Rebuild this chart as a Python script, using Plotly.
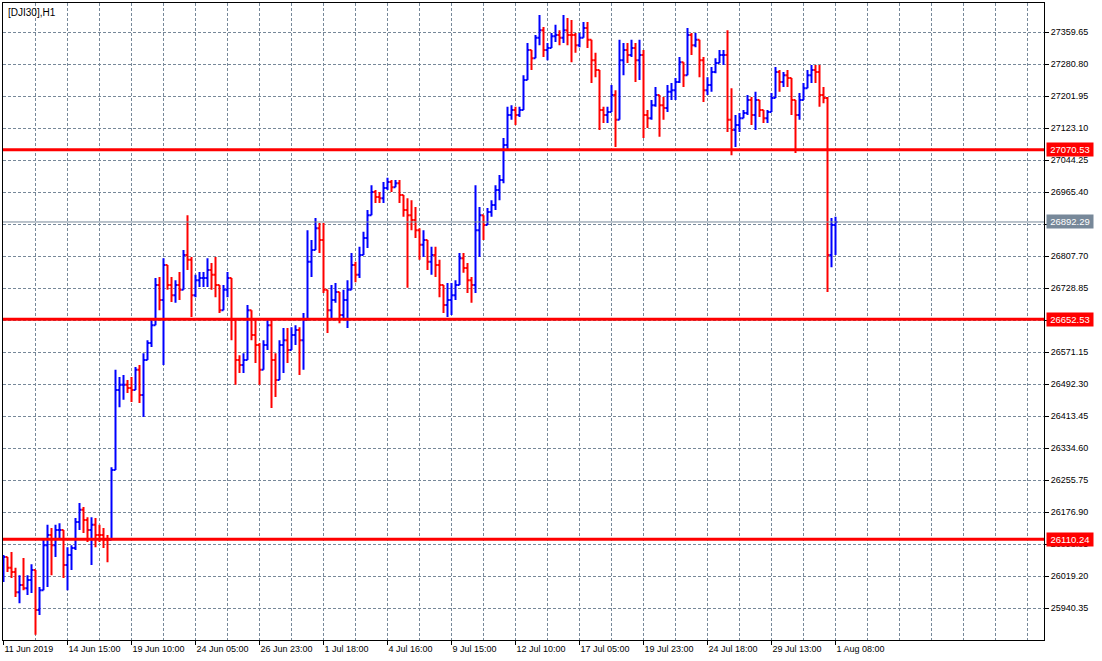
import plotly.graph_objects as go

# DJI30 H1 - one sample every 4 hourly bars (high / low / close)
bars_per_sample = 4
first_open = 26047

highs = [26072, 26067, 26079, 26040, 26022, 26064, 26022, 26049, 26035, 25993,
         26109, 26146, 26138, 26146, 26150, 26133, 26091, 26096, 26163, 26200,
         26190, 26165, 26165, 26163, 26146, 26138, 26121, 26288, 26528, 26510,
         26515, 26503, 26510, 26535, 26540, 26569, 26601, 26651, 26754, 26757,
         26803, 26786, 26757, 26749, 26769, 26823, 26909, 26806, 26762, 26769,
         26769, 26803, 26791, 26806, 26737, 26737, 26769, 26754, 26651, 26564,
         26569, 26688, 26675, 26651, 26594, 26601, 26651, 26651, 26569, 26601,
         26631, 26631, 26633, 26638, 26633, 26668, 26872, 26848, 26902, 26890,
         26890, 26725, 26737, 26742, 26720, 26725, 26749, 26816, 26794, 26831,
         26868, 26922, 26983, 26971, 26966, 26991, 27001, 26996, 26996, 26996,
         26959, 26951, 26946, 26929, 26877, 26872, 26848, 26831, 26831, 26799,
         26737, 26742, 26742, 26749, 26816, 26816, 26791, 26757, 26983, 26929,
         26909, 26927, 26946, 26983, 27008, 27099, 27176, 27180, 27176, 27176,
         27254, 27333, 27316, 27353, 27402, 27373, 27333, 27358, 27378, 27365,
         27402, 27395, 27390, 27358, 27358, 27385, 27385, 27341, 27309, 27267,
         27176, 27176, 27230, 27217, 27341, 27333, 27333, 27341, 27333, 27341,
         27316, 27168, 27193, 27225, 27205, 27200, 27230, 27235, 27247, 27299,
         27286, 27370, 27358, 27358, 27341, 27299, 27249, 27274, 27296, 27316,
         27316, 27365, 27222, 27156, 27161, 27168, 27205, 27200, 27213, 27193,
         27168, 27168, 27210, 27274, 27267, 27262, 27267, 27247, 27193, 27210,
         27235, 27267, 27279, 27279, 27279, 27225, 27200, 26902, 26905]

lows = [26005, 26030, 26015, 25968, 25953, 25985, 25973, 25978, 25875, 25924,
        25985, 25993, 26022, 26067, 26109, 26015, 25985, 26035, 26084, 26133,
        26126, 26104, 26047, 26091, 26104, 26089, 26054, 26109, 26281, 26436,
        26454, 26471, 26449, 26478, 26446, 26412, 26552, 26584, 26638, 26675,
        26540, 26725, 26695, 26693, 26700, 26725, 26774, 26658, 26707, 26732,
        26732, 26732, 26725, 26707, 26668, 26675, 26707, 26601, 26491, 26520,
        26520, 26552, 26601, 26545, 26491, 26528, 26577, 26434, 26461, 26503,
        26520, 26545, 26577, 26589, 26515, 26528, 26651, 26757, 26823, 26816,
        26717, 26619, 26651, 26693, 26643, 26651, 26631, 26725, 26744, 26754,
        26811, 26828, 26909, 26939, 26939, 26939, 26971, 26966, 26978, 26939,
        26905, 26730, 26872, 26853, 26799, 26806, 26774, 26762, 26757, 26707,
        26668, 26658, 26663, 26700, 26737, 26767, 26717, 26693, 26717, 26806,
        26848, 26885, 26905, 26922, 26946, 26988, 27070, 27144, 27131, 27151,
        27168, 27242, 27267, 27296, 27328, 27299, 27291, 27321, 27336, 27328,
        27333, 27328, 27286, 27309, 27323, 27346, 27321, 27235, 27249, 27119,
        27136, 27136, 27163, 27077, 27144, 27254, 27284, 27299, 27237, 27242,
        27099, 27124, 27144, 27176, 27102, 27144, 27163, 27193, 27193, 27235,
        27225, 27254, 27304, 27323, 27249, 27188, 27205, 27213, 27259, 27284,
        27279, 27114, 27057, 27077, 27114, 27148, 27156, 27131, 27119, 27151,
        27136, 27136, 27163, 27198, 27213, 27225, 27225, 27156, 27062, 27144,
        27193, 27222, 27235, 27235, 27176, 27185, 26720, 26781, 26811]

closes = [26067, 26040, 26030, 25980, 25998, 25990, 26010, 26035, 25936, 25985,
          26096, 26121, 26096, 26133, 26133, 26047, 26072, 26089, 26153, 26183,
          26158, 26133, 26146, 26121, 26121, 26109, 26109, 26281, 26478, 26491,
          26491, 26483, 26478, 26528, 26466, 26552, 26594, 26638, 26737, 26700,
          26786, 26737, 26712, 26737, 26725, 26811, 26799, 26712, 26749, 26754,
          26754, 26774, 26762, 26737, 26675, 26725, 26754, 26651, 26552, 26540,
          26552, 26675, 26614, 26589, 26528, 26589, 26638, 26552, 26503, 26589,
          26601, 26577, 26614, 26626, 26601, 26651, 26794, 26823, 26877, 26848,
          26725, 26675, 26700, 26720, 26663, 26700, 26725, 26786, 26762, 26811,
          26853, 26909, 26966, 26954, 26951, 26976, 26991, 26978, 26988, 26959,
          26922, 26909, 26897, 26872, 26836, 26848, 26794, 26811, 26786, 26737,
          26688, 26700, 26712, 26737, 26803, 26779, 26749, 26737, 26872, 26909,
          26885, 26917, 26934, 26971, 26996, 27082, 27156, 27168, 27156, 27168,
          27242, 27316, 27296, 27346, 27365, 27316, 27321, 27350, 27353, 27346,
          27365, 27353, 27353, 27328, 27346, 27370, 27341, 27291, 27267, 27168,
          27156, 27163, 27205, 27144, 27291, 27316, 27304, 27321, 27291, 27304,
          27156, 27148, 27180, 27205, 27180, 27173, 27213, 27217, 27237, 27286,
          27254, 27353, 27328, 27341, 27291, 27217, 27230, 27262, 27284, 27304,
          27304, 27144, 27119, 27131, 27148, 27161, 27193, 27156, 27193, 27168,
          27148, 27163, 27198, 27262, 27237, 27254, 27247, 27193, 27156, 27193,
          27222, 27254, 27267, 27262, 27205, 27198, 26811, 26885, 26892.29]

time_labels = ["11 Jun 2019", "14 Jun 15:00", "19 Jun 10:00", "24 Jun 05:00",
               "26 Jun 23:00", "1 Jul 18:00", "4 Jul 16:00", "9 Jul 15:00",
               "12 Jul 10:00", "17 Jul 05:00", "19 Jul 23:00", "24 Jul 18:00",
               "29 Jul 13:00", "1 Aug 08:00"]
bars_per_label = 64

price_ticks = [25940.35, 26019.20, 26098.05, 26176.90, 26255.75, 26334.60, 26413.45,
               26492.30, 26571.15, 26650.00, 26728.85, 26807.70, 26886.55, 26965.40,
               27044.25, 27123.10, 27201.95, 27280.80, 27359.65]
# these two sit right under the price boxes and can't be seen in the terminal
hidden_ticks = [26650.00, 26886.55]

levels = [27070.53, 26652.53, 26110.24]
bid = 26892.29

FONT = "Liberation Sans, Arial, sans-serif"
FS = 9
GRID = "#778899"

opens = [first_open] + closes[:-1]
bar_idx = [i * bars_per_sample for i in range(len(closes))]
price_text = ["" if t in hidden_ticks else f"{t:.2f}" for t in price_ticks]

fig = go.Figure()
fig.add_trace(go.Ohlc(x=bar_idx, open=opens, high=highs, low=lows, close=closes,
                      increasing=dict(line=dict(color="#0000ff", width=2)),
                      decreasing=dict(line=dict(color="#ff0000", width=2)),
                      tickwidth=0.5, hoverinfo="skip", showlegend=False))

# support / resistance levels and bid line
for lvl in levels:
    fig.add_hline(y=lvl, line=dict(color="#ff0000", width=3))
fig.add_hline(y=bid, line=dict(color=GRID, width=1))

for lvl in levels:
    fig.add_annotation(x=1, xref="paper", y=lvl, yref="y", text=f"{lvl:.2f}",
                       showarrow=False, xanchor="left", xshift=2, width=44, height=11,
                       bgcolor="#ff0000", font=dict(color="white", size=FS + 0.5, family=FONT))
fig.add_annotation(x=1, xref="paper", y=bid, yref="y", text=f"{bid:.2f}",
                   showarrow=False, xanchor="left", xshift=2, width=44, height=11,
                   bgcolor=GRID, font=dict(color="white", size=FS + 0.5, family=FONT))

fig.add_annotation(x=0, xref="paper", y=1, yref="paper", text="[DJI30],H1",
                   showarrow=False, xanchor="left", yanchor="top", xshift=3, yshift=-2,
                   font=dict(color="black", size=10, family=FONT))

label_pos = [j * bars_per_label for j in range(len(time_labels))]

fig.update_layout(
    width=1102, height=661,
    margin=dict(l=3, r=58, t=3, b=21, autoexpand=False),
    paper_bgcolor="white", plot_bgcolor="white",
    font=dict(family=FONT, size=FS, color="black"),
    showlegend=False,
    xaxis=dict(range=[-0.5, 1040.5], rangeslider=dict(visible=False),
               tickmode="array", tickvals=label_pos, ticktext=time_labels,
               tickangle=0, automargin=False,
               ticks="outside", ticklen=4, tickcolor="black",
               ticklabelposition="outside right",
               showgrid=False, zeroline=False,
               minor=dict(tick0=0, dtick=32, showgrid=True, gridcolor=GRID,
                          griddash="3px,2px", gridwidth=1),
               showline=True, mirror=True, linecolor="black", linewidth=1),
    yaxis=dict(side="right", range=[25862.25, 27431.85], automargin=False,
               tickmode="array", tickvals=price_ticks, ticktext=price_text,
               ticks="outside", ticklen=4, tickcolor="black",
               showgrid=True, gridcolor=GRID, griddash="3px,2px", gridwidth=1,
               zeroline=False,
               showline=True, mirror=True, linecolor="black", linewidth=1),
)

# page body has a default 8px margin; drop it so the chart sits at the window corner
fig.write_html("out.html", config={"displayModeBar": False},
               post_script="document.body.style.margin='0';")
